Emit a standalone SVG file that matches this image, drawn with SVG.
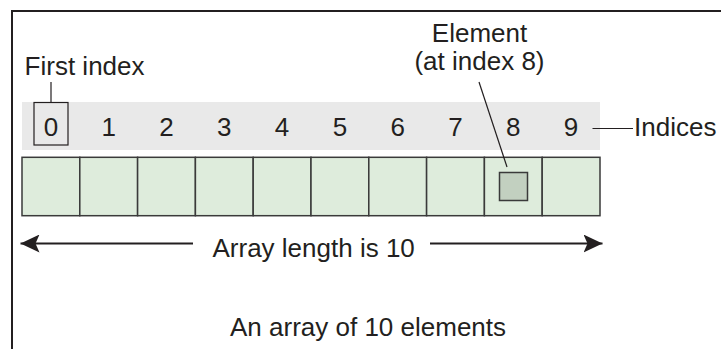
<svg xmlns="http://www.w3.org/2000/svg" width="721" height="349" viewBox="0 0 721 349">
  <style>
    text { font-family: "Liberation Sans", Arial, sans-serif; font-size: 26px; fill: #231f20; }
    .mid { text-anchor: middle; }
    .cell { fill: #deecdc; stroke: #3a3a3a; stroke-width: 1.5; }
    .thin { fill: none; stroke: #231f20; stroke-width: 1.2; }
    .arrow { fill: none; stroke: #231f20; stroke-width: 2; }
  </style>
  <defs>
    <marker id="head" viewBox="0 0 19 18" refX="19" refY="9" markerWidth="19" markerHeight="18" markerUnits="userSpaceOnUse" orient="auto">
      <path d="M0,0 L19,9 L0,18 L4,9 Z" fill="#231f20"/>
    </marker>
  </defs>

  <!-- frame -->
  <path id="frame" d="M12,349 V11 H721" fill="none" stroke="#231f20" stroke-width="2"/>

  <!-- index band -->
  <g id="indices">
    <rect x="22" y="102" width="578" height="48" fill="#e9e9e9"/>
    <text class="mid" x="50.9" y="135.5">0</text>
    <text class="mid" x="108.7" y="135.5">1</text>
    <text class="mid" x="166.5" y="135.5">2</text>
    <text class="mid" x="224.3" y="135.5">3</text>
    <text class="mid" x="282.1" y="135.5">4</text>
    <text class="mid" x="339.9" y="135.5">5</text>
    <text class="mid" x="397.7" y="135.5">6</text>
    <text class="mid" x="455.5" y="135.5">7</text>
    <text class="mid" x="513.3" y="135.5">8</text>
    <text class="mid" x="571.1" y="135.5">9</text>
  </g>

  <!-- array cells -->
  <g id="cells">
    <rect class="cell" x="22" y="157.3" width="57.8" height="58.4"/>
    <rect class="cell" x="79.8" y="157.3" width="57.8" height="58.4"/>
    <rect class="cell" x="137.6" y="157.3" width="57.8" height="58.4"/>
    <rect class="cell" x="195.4" y="157.3" width="57.8" height="58.4"/>
    <rect class="cell" x="253.2" y="157.3" width="57.8" height="58.4"/>
    <rect class="cell" x="311" y="157.3" width="57.8" height="58.4"/>
    <rect class="cell" x="368.8" y="157.3" width="57.8" height="58.4"/>
    <rect class="cell" x="426.6" y="157.3" width="57.8" height="58.4"/>
    <rect class="cell" x="484.4" y="157.3" width="57.8" height="58.4"/>
    <rect class="cell" x="542.2" y="157.3" width="57.8" height="58.4"/>
  </g>

  <!-- element at index 8 -->
  <g id="element">
    <rect x="499.5" y="172.5" width="28" height="28" fill="#c2d0c0" stroke="#3a3a3a" stroke-width="1.5"/>
    <text class="mid" x="479.5" y="42">Element</text>
    <text class="mid" x="479.5" y="69.5">(at index 8)</text>
  </g>

  <!-- first index label -->
  <g id="first-index">
    <rect class="thin" x="34" y="102.5" width="34" height="42.5"/>
    <text x="24.6" y="74.5">First index</text>
  </g>

  <g id="indices-label">
    <text x="634" y="135.5">Indices</text>
  </g>

  <g id="length-label">
    <text x="212.5" y="256.5">Array length is 10</text>
  </g>

  <g id="caption">
    <text x="230" y="336">An array of 10 elements</text>
  </g>

  <!-- connectors -->
  <g id="connectors">
    <line class="thin" x1="51" y1="82" x2="51" y2="102.5"/>
    <line class="thin" x1="479" y1="82" x2="507" y2="167"/>
    <line class="thin" x1="592.5" y1="128.5" x2="633" y2="128.5"/>
    <path class="arrow" d="M193,243.5 H20.5" marker-end="url(#head)"/>
    <path class="arrow" d="M430,243.5 H602.5" marker-end="url(#head)"/>
  </g>
</svg>
